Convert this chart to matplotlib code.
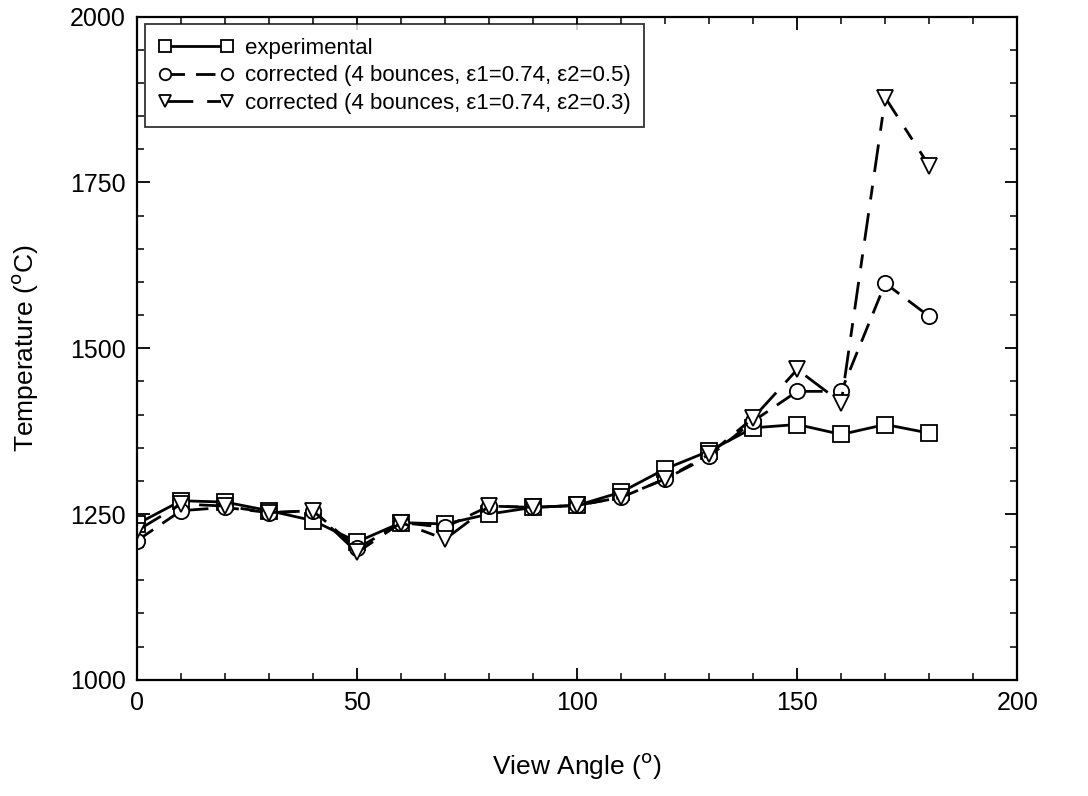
import matplotlib
matplotlib.use("Agg")
import matplotlib.pyplot as plt
from matplotlib.ticker import MultipleLocator

plt.rcParams['font.family'] = ['Liberation Sans', 'DejaVu Sans']

angle = [0, 10, 20, 30, 40, 50, 60, 70, 80, 90, 100, 110, 120, 130, 140, 150, 160, 170, 180]
experimental = [1235, 1270, 1268, 1255, 1240, 1208, 1237, 1235, 1250, 1260, 1263, 1283, 1318, 1345, 1380, 1385, 1370, 1385, 1372]
corr_05 = [1210, 1255, 1260, 1252, 1255, 1198, 1237, 1230, 1262, 1260, 1263, 1275, 1303, 1337, 1390, 1435, 1435, 1598, 1548]
corr_03 = [1225, 1265, 1262, 1252, 1255, 1192, 1237, 1212, 1262, 1260, 1263, 1275, 1303, 1340, 1395, 1468, 1418, 1878, 1775]

fig = plt.figure(figsize=(10.88, 7.96), dpi=100)
ax = fig.add_axes([0.126, 0.146, 0.809, 0.833])

mk = dict(markersize=11, markerfacecolor='white', markeredgecolor='black', markeredgewidth=1.3, color='black', linewidth=2.0)
ax.plot(angle, experimental, marker='s', linestyle='-', label='experimental', **mk)
ax.plot(angle, corr_05, marker='o', linestyle=(0, (7, 4)), label='corrected (4 bounces, \u03b51=0.74, \u03b52=0.5)', **mk)
ax.plot(angle, corr_03, marker='v', linestyle=(0, (10, 5, 5, 5)), label='corrected (4 bounces, \u03b51=0.74, \u03b52=0.3)', **mk)

ax.set_xlim(0, 200)
ax.set_ylim(1000, 2000)
ax.xaxis.set_major_locator(MultipleLocator(50))
ax.xaxis.set_minor_locator(MultipleLocator(10))
ax.yaxis.set_major_locator(MultipleLocator(250))
ax.yaxis.set_minor_locator(MultipleLocator(50))
ax.tick_params(which='both', direction='in', top=True, right=True, labelsize=18, pad=8)
ax.tick_params(which='major', length=9, width=1.3)
ax.tick_params(which='minor', length=5, width=1.1)
for s in ax.spines.values():
    s.set_linewidth(1.6)

ax.set_xlabel('View Angle ($^{\\rm o}$)', fontsize=19, labelpad=26)
ax.set_ylabel('Temperature ($^{\\rm o}$C)', fontsize=19, labelpad=22)

leg = ax.legend(loc='upper left', fontsize=16, frameon=True, fancybox=False, edgecolor='black',
                borderaxespad=0.35, handlelength=3.4, handletextpad=0.5, labelspacing=0.3,
                markerscale=0.75, numpoints=2, borderpad=0.6)
leg.get_frame().set_linewidth(1.3)

fig.savefig('out.png', dpi=100)
